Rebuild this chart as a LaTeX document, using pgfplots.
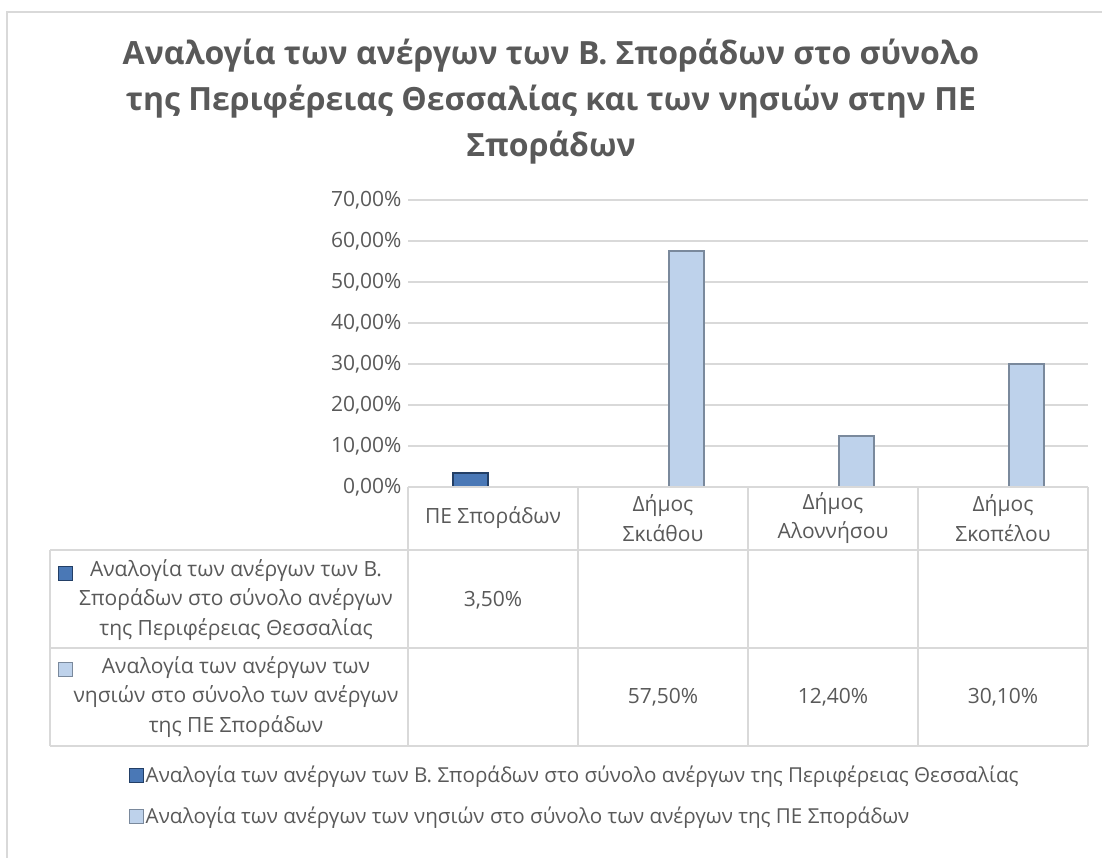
\documentclass[border=0pt]{standalone}
\usepackage{fontspec}
\setmainfont{Open Sans}
\usepackage{pgfplots}
\pgfplotsset{compat=1.18}

\definecolor{txt}{HTML}{595959}
\definecolor{gridc}{HTML}{D9D9D9}
\definecolor{sAm}{HTML}{4A78B6}
\definecolor{sAe}{HTML}{233F66}
\definecolor{sBm}{HTML}{BED2EB}
\definecolor{sBe}{HTML}{7A899C}

\tikzset{
  serA/.style={fill=sAm, draw=sAe, line width=2pt},
  serB/.style={fill=sBm, draw=sBe, line width=2pt},
  tbl/.style={font=\fontsize{21}{29.5}\selectfont, text=txt, align=center, inner sep=0pt},
}

\begin{document}
\begin{tikzpicture}[x=1pt,y=1pt]
% frame
\draw[gridc, line width=1.3pt] (7,-870) -- (7,-12) -- (1110,-12);

% title
\begin{scope}[every node/.style={font=\fontsize{32}{38}\selectfont\bfseries, text=txt}]
\node at (551,-56) {Αναλογία των ανέργων των Β. Σποράδων στο σύνολο};
\node at (551,-102) {της Περιφέρειας Θεσσαλίας και των νησιών στην ΠΕ};
\node at (551,-148) {Σποράδων};
\end{scope}

\begin{axis}[
  at={(408pt,-487pt)}, anchor=south west,
  scale only axis, width=680pt, height=287pt,
  xmin=-0.5, xmax=3.5, ymin=0, ymax=70,
  xtick=\empty, ytick={0,10,...,70},
  axis line style={draw=none}, major tick length=0pt,
  ymajorgrids, grid style={draw=gridc, line width=1.3pt},
  /pgf/number format/assume math mode=true,
  yticklabel={\pgfmathprintnumber[fixed,fixed zerofill,precision=2,use comma]{\tick}\%},
  yticklabel style={font=\fontsize{21}{24}\selectfont, text=txt, xshift=-3pt},
  ybar, bar width=35pt,
  clip=false,
  legend image code/.code={\path[#1, line width=1pt] (0pt,-7pt) rectangle (14pt,7pt);},
  legend style={draw=none, fill=none, at={(axis description cs:-0.411,-0.965)},
    anchor=north west, row sep=19pt, inner sep=0pt,
    font=\fontsize{20.6}{24}\selectfont, text=txt,
    nodes={inner sep=2pt}},
  legend cell align=left,
]
\addplot[serA, bar shift=-23pt] coordinates {(0,3.5)};
\addplot[serB, bar shift=23pt] coordinates {(1,57.5) (2,12.4) (3,30.1)};
\legend{Αναλογία των ανέργων των Β. Σποράδων στο σύνολο ανέργων της Περιφέρειας Θεσσαλίας,
        Αναλογία των ανέργων των νησιών στο σύνολο των ανέργων της ΠΕ Σποράδων}
\end{axis}

% data table grid
\begin{scope}[draw=gridc, line width=1.3pt]
\draw (408,-487) -- (1088,-487);
\draw (50,-550) -- (1088,-550);
\draw (50,-648) -- (1088,-648);
\draw (50,-746) -- (1088,-746);
\draw (50,-550) -- (50,-746);
\foreach \xx in {408,578,748,918,1088} \draw (\xx,-487) -- (\xx,-746);
\end{scope}

% table header
\node[tbl] at (493,-518) {ΠΕ Σποράδων};
\node[tbl] at (663,-518) {Δήμος\\Σκιάθου};
\node[tbl] at (833,-518) {Δήμος\\Αλοννήσου};
\node[tbl] at (1003,-518) {Δήμος\\Σκοπέλου};

% row headers
\path[serA, line width=1pt] (58,-580) rectangle (72,-566);
\node[tbl] at (236,-600) {Αναλογία των ανέργων των Β.\\Σποράδων στο σύνολο ανέργων\\της Περιφέρειας Θεσσαλίας};
\path[serB, line width=1pt] (58,-676) rectangle (72,-662);
\node[tbl] at (236,-697) {Αναλογία των ανέργων των\\νησιών στο σύνολο των ανέργων\\της ΠΕ Σποράδων};

% row values
\node[tbl] at (493,-600) {3,50\%};
\node[tbl] at (663,-697) {57,50\%};
\node[tbl] at (833,-697) {12,40\%};
\node[tbl] at (1003,-697) {30,10\%};

\pgfresetboundingbox
\path[use as bounding box] (0,0) rectangle (1102,-857);
\end{tikzpicture}
\end{document}
